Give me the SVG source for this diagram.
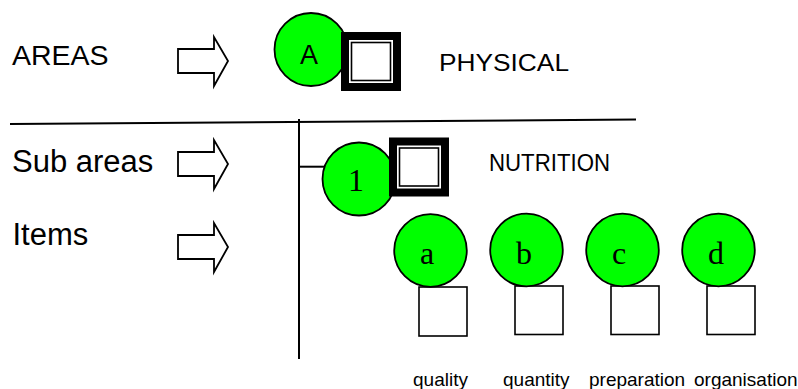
<svg xmlns="http://www.w3.org/2000/svg" width="798" height="389" viewBox="0 0 798 389">
<style>
.lbl{font-family:"Liberation Sans",Arial,sans-serif;fill:#000}
.ser{font-family:"Liberation Serif","Times New Roman",serif;fill:#000;text-anchor:middle}
.circ{fill:#00ff00;stroke:#000;stroke-width:1.8}
.arr{fill:#fff;stroke:#000;stroke-width:1.8;stroke-linejoin:miter}
.sq{fill:#fff;stroke:#000;stroke-width:1.6}
.ln{stroke:#000;stroke-width:2;fill:none}
</style>
<defs>
<g id="dbl">
<rect x="0" y="0" width="60" height="59" fill="#000"/>
<rect x="8" y="8" width="44" height="43" fill="#fff"/>
<rect x="10.5" y="10.5" width="39" height="38" fill="#fff" stroke="#000" stroke-width="1.6"/>
</g>
<polygon id="barrow" points="0,12 36,12 36,0 50,24 36,49 36,36 0,36"/>
</defs>
<g id="labels">
<text class="lbl" x="12" y="65" font-size="28.5">AREAS</text>
<text class="lbl" x="12" y="172" font-size="31">Sub areas</text>
<text class="lbl" x="12.5" y="245" font-size="31">Items</text>
</g>
<g id="arrows">
<use href="#barrow" class="arr" x="178" y="37"/>
<use href="#barrow" class="arr" x="178" y="140"/>
<use href="#barrow" class="arr" x="178" y="223"/>
</g>
<g id="connectors">
<line class="ln" x1="10" y1="124" x2="636" y2="119.5"/>
<line class="ln" x1="299" y1="119" x2="299" y2="359"/>
<line class="ln" x1="299" y1="166.7" x2="325" y2="166.7"/>
</g>
<g id="nodeA">
<circle class="circ" cx="311" cy="49.5" r="36.5"/>
<text class="lbl" x="309" y="64" font-size="27" text-anchor="middle">A</text>
<use href="#dbl" x="341" y="32"/>
<text class="lbl" x="439" y="71" font-size="24" textLength="130" lengthAdjust="spacingAndGlyphs">PHYSICAL</text>
</g>
<g id="node1">
<circle class="circ" cx="359" cy="179" r="36.5"/>
<text class="ser" x="356" y="191" font-size="32">1</text>
<use href="#dbl" x="389" y="137.5"/>
<text class="lbl" x="489" y="171" font-size="24" textLength="121" lengthAdjust="spacingAndGlyphs">NUTRITION</text>
</g>
<g id="itemA">
<rect class="sq" x="419" y="287" width="48" height="49"/>
<circle class="circ" cx="430.5" cy="250.5" r="36.3"/>
<text class="ser" x="427" y="264" font-size="32">a</text>
<text class="lbl" x="413" y="386" font-size="19">quality</text>
</g>
<g id="itemB">
<rect class="sq" x="515" y="286" width="48" height="48.5"/>
<circle class="circ" cx="526.5" cy="250" r="36.3"/>
<text class="ser" x="524" y="264" font-size="32">b</text>
<text class="lbl" x="503" y="386" font-size="19">quantity</text>
</g>
<g id="itemC">
<rect class="sq" x="611" y="286" width="48" height="48.5"/>
<circle class="circ" cx="622.5" cy="250" r="36.3"/>
<text class="ser" x="619" y="264" font-size="32">c</text>
<text class="lbl" x="589" y="386" font-size="19">preparation</text>
</g>
<g id="itemD">
<rect class="sq" x="707" y="286" width="48" height="48.5"/>
<circle class="circ" cx="718.5" cy="250" r="36.3"/>
<text class="ser" x="716" y="264" font-size="32">d</text>
<text class="lbl" x="694" y="386" font-size="19">organisation</text>
</g>
</svg>
